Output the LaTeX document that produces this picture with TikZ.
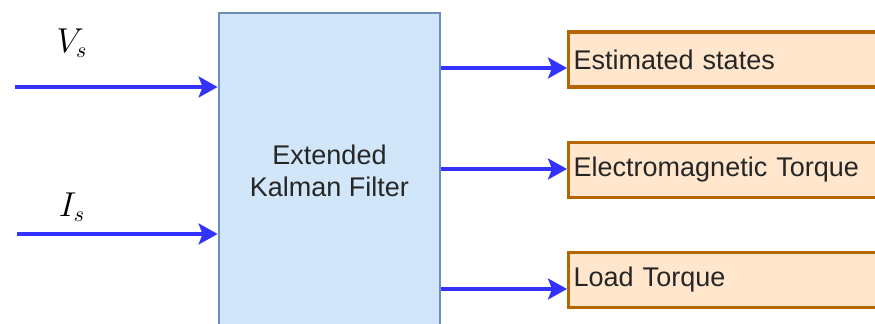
\documentclass[tikz,border=0pt]{standalone}
\usepackage{fontspec}
\setsansfont{Liberation Sans}
\usetikzlibrary{arrows.meta, positioning}
\definecolor{fblue}{HTML}{D2E6F9}
\definecolor{dblue}{HTML}{6C8EBF}
\definecolor{forange}{HTML}{FFE6CC}
\definecolor{dorange}{HTML}{B46504}
\definecolor{arblue}{HTML}{3333FF}
\tikzset{
  blk/.style = {draw=dblue, fill=fblue, line width=1.4pt, align=center,
    font=\sffamily\fontsize{13.5}{16}\selectfont, text=black!85,
    minimum width=110.5pt, minimum height=158pt, inner sep=0pt},
  outb/.style = {draw=dorange, fill=forange, line width=1.7pt,
    font=\sffamily\fontsize{13.5}{16}\selectfont, text=black!85,
    text width=154pt, align=left, inner xsep=2.5pt, inner ysep=0pt,
    minimum height=27.5pt},
  sig/.style = {-{Stealth[length=9.5pt, width=10.5pt, inset=2pt]},
    line width=1.6pt, draw=arblue},
  lab/.style = {font=\fontsize{16}{18}\selectfont, inner sep=0pt}
}

\begin{document}
\begin{tikzpicture}[x=0.5pt, y=-0.5pt]
  \useasboundingbox (0,0) rectangle (875,324);
  \clip (0,0) rectangle (875,324);
  \node [blk] (ekf) at (329.5,171) {Extended\\Kalman Filter};
  % inputs
  \node [lab] (vs) at (72,43) {$V_s$};
  \node [lab] (is) at (72,207) {$I_s$};
  \coordinate (vin) at (15,87);
  \coordinate (iin) at (17,234);
  \draw [sig] (vin) -- (vin -| ekf.west);
  \draw [sig] (iin) -- (iin -| ekf.west);
  % outputs
  \foreach \t/\y/\a [count=\i from 0] in {Estimated states/59.5/68,
      Electromagnetic Torque/170/169, Load Torque/280/289} {
    \node [outb, anchor=west] (o\i) at (567,\y) {\t};
    \draw [sig] (ekf.east |- 0,\a) -- (o\i.west |- 0,\a);
  }
\end{tikzpicture}
\end{document}
